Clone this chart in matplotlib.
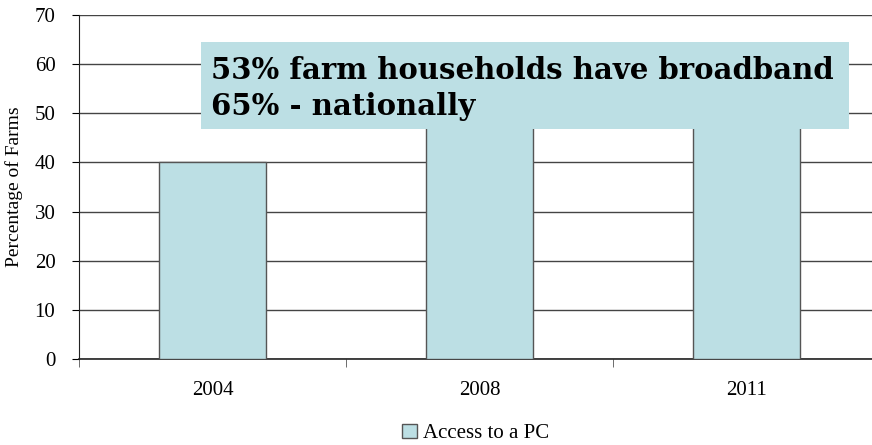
import numpy as np
import matplotlib.pyplot as plt
from matplotlib.patches import Rectangle

# values (2008 and 2011 are hidden behind the callout in the source)
years = ['2004', '2008', '2011']
pc_access = [40, 57, 62]
yticks = [0, 10, 20, 30, 40, 50, 60, 70]
callout = '53% farm households have broadband\n65% - nationally'

W, H = 872, 445
bar_color = '#bcdfe4'
plt.rcParams['font.family'] = ['Liberation Serif', 'DejaVu Serif']

fig = plt.figure(figsize=(W / 100, H / 100), dpi=100)
ax = fig.add_axes([79 / W, 86 / H, (880 - 79) / W, (359 - 15) / H])

x = np.arange(len(years))
ax.bar(x, pc_access, width=0.4, color=bar_color, edgecolor='#555555',
       linewidth=1, label='Access to a PC', zorder=3)

ax.set_xlim(-0.5, len(years) - 0.5)
ax.set_ylim(0, 70)
ax.set_yticks(yticks)
ax.set_yticklabels([str(t) for t in yticks], fontsize=15)
ax.set_xticks(x)
ax.set_xticklabels(years, fontsize=15)
ax.set_xticks(np.arange(len(years) + 1) - 0.5, minor=True)
ax.tick_params(axis='x', which='major', length=0, pad=16)
ax.tick_params(axis='x', which='minor', length=6, direction='out', color='#555555')
ax.tick_params(axis='y', length=5, direction='out', pad=12)
ax.yaxis.grid(True, color='#444444', linewidth=1, zorder=0)
ax.set_axisbelow(True)
for s in ['top', 'right']:
    ax.spines[s].set_visible(False)
ax.spines['left'].set_color('#222222')
ax.spines['bottom'].set_color('#222222')
ax.spines['bottom'].set_linewidth(1.2)

ax.set_ylabel('Percentage of Farms', fontsize=14, labelpad=8)

ax.legend(loc='lower center', bbox_to_anchor=(0.5 - (880 - 872) / 2 / (880 - 79), -0.3),
          frameon=False, fontsize=15, handlelength=0.7, handleheight=0.7,
          handletextpad=0.3)

# callout box drawn over the plot
fig.add_artist(Rectangle((201 / W, 1 - 129 / H), (849 - 201) / W, (129 - 42) / H,
                         transform=fig.transFigure, facecolor=bar_color,
                         edgecolor='none', zorder=10))
fig.text(211 / W, 1 - 56 / H, callout, fontsize=21, fontweight='bold',
         family='DejaVu Serif', va='top', ha='left', linespacing=1.3, zorder=11)

fig.savefig('out.png', dpi=100)
